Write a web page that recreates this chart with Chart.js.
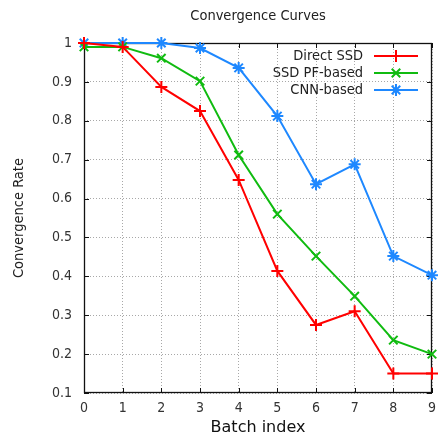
<!DOCTYPE html>
<html>
<head>
<meta charset="utf-8">
<script src="https://cdn.jsdelivr.net/npm/chart.js@4/dist/chart.umd.min.js"></script>
<style>
  html, body { margin: 0; padding: 0; background: #fff; }
  #wrap { width: 440px; height: 437px; }
</style>
</head>
<body>
<div id="wrap"><canvas id="convChart" width="440" height="437"></canvas></div>
<script>
// batch indices on the x axis
const batches = [0, 1, 2, 3, 4, 5, 6, 7, 8, 9];

// convergence rate per batch
const directSSD = [1.0, 0.99, 0.887, 0.825, 0.648, 0.414, 0.275, 0.31, 0.15, 0.15];
const ssdPF = [0.99, 0.99, 0.961, 0.902, 0.712, 0.56, 0.452, 0.349, 0.236, 0.2];
const cnnBased = [1.0, 1.0, 1.0, 0.987, 0.936, 0.812, 0.637, 0.688, 0.452, 0.403];

const seriesNames = ['Direct SSD', 'SSD PF-based', 'CNN-based'];
const chartTitle = 'Convergence Curves';
const FONT = '"DejaVu Sans Condensed", "DejaVu Sans", sans-serif';
const WIDE_FONT = '"DejaVu Sans", sans-serif';

function makeSet(name, data, color, style) {
    return {
        label: name,
        data: data,
        borderColor: color,
        backgroundColor: color,
        borderWidth: 2,
        pointStyle: style,
        pointRadius: 6,
        pointBorderWidth: 2,
        pointHoverRadius: 6,
        tension: 0,
        fill: false,
        clip: false
    };
}

// gnuplot style frame with inward ticks on all four sides, title over the plot box
const framePlugin = {
    id: 'frame',
    beforeDatasetsDraw(chart) {
        const { ctx, chartArea: a } = chart;
        const xs = chart.scales.x, ys = chart.scales.y;
        ctx.save();
        ctx.strokeStyle = '#111';
        ctx.lineWidth = 1.3;
        ctx.strokeRect(a.left + 0.5, a.top + 0.5, a.right - a.left - 1, a.bottom - a.top - 1);
        ctx.lineWidth = 1;
        ctx.beginPath();
        ys.ticks.forEach(t => {
            const y = Math.round(ys.getPixelForValue(t.value)) + 0.5;
            ctx.moveTo(a.left, y); ctx.lineTo(a.left + 5, y);
            ctx.moveTo(a.right, y); ctx.lineTo(a.right - 5, y);
        });
        xs.ticks.forEach((t, i) => {
            const x = Math.round(xs.getPixelForTick(i)) + 0.5;
            ctx.moveTo(x, a.bottom); ctx.lineTo(x, a.bottom - 5);
            ctx.moveTo(x, a.top); ctx.lineTo(x, a.top + 5);
        });
        ctx.stroke();

        ctx.font = '14.5px ' + FONT;
        ctx.fillStyle = '#222';
        ctx.textAlign = 'center';
        ctx.textBaseline = 'middle';
        ctx.fillText(chartTitle, (a.left + a.right) / 2, 16.5);
        ctx.restore();
    }
};

// key placed inside the top right corner, text right aligned
const keyPlugin = {
    id: 'insideKey',
    afterDatasetsDraw(chart) {
        const ctx = chart.ctx;
        ctx.save();
        chart.data.datasets.forEach((ds, i) => {
            const y = 56 + i * 17;
            ctx.font = '14.5px ' + FONT;
            ctx.fillStyle = '#222';
            ctx.textAlign = 'right';
            ctx.textBaseline = 'middle';
            ctx.fillText(ds.label, 363, y);
            ctx.strokeStyle = ds.borderColor;
            ctx.lineWidth = 2;
            ctx.beginPath();
            ctx.moveTo(374, y);
            ctx.lineTo(418, y);
            ctx.stroke();
            Chart.helpers.drawPoint(ctx, {
                pointStyle: ds.pointStyle, radius: 6, rotation: 0, borderWidth: 2
            }, 396, y);
        });
        ctx.restore();
    }
};

const gridStyle = {
    color: '#a8a8a8',
    lineWidth: 1,
    drawTicks: false
};

new Chart(document.getElementById('convChart'), {
    type: 'line',
    data: {
        labels: batches,
        datasets: [
            makeSet(seriesNames[0], directSSD, '#ff0000', 'cross'),
            makeSet(seriesNames[1], ssdPF, '#10bb10', 'crossRot'),
            makeSet(seriesNames[2], cnnBased, '#1e88ff', 'star')
        ]
    },
    options: {
        responsive: false,
        animation: false,
        events: [],
        layout: { padding: { left: 0, right: 3, top: 43, bottom: 0 } },
        plugins: {
            legend: { display: false },
            tooltip: { enabled: false },
            title: { display: false }
        },
        scales: {
            x: {
                type: 'category',
                offset: false,
                grid: gridStyle,
                border: { display: false, dash: [1, 2] },
                ticks: {
                    color: '#333',
                    font: { family: FONT, size: 14 },
                    padding: 7,
                    maxRotation: 0,
                    autoSkip: false
                },
                title: {
                    display: true,
                    text: 'Batch index',
                    color: '#111',
                    font: { family: WIDE_FONT, size: 16 },
                    padding: { top: 0, bottom: 0 }
                },
                afterFit(scale) {
                    scale.height = 44;
                    scale.paddingLeft = 0;
                    scale.paddingRight = 0;
                }
            },
            y: {
                min: 0.1,
                max: 1,
                grid: gridStyle,
                border: { display: false, dash: [1, 2] },
                ticks: {
                    stepSize: 0.1,
                    color: '#333',
                    font: { family: FONT, size: 14 },
                    padding: 12,
                    callback: v => String(+v.toFixed(1))
                },
                title: {
                    display: true,
                    text: 'Convergence Rate',
                    color: '#222',
                    font: { family: FONT, size: 14.5 },
                    padding: { top: 11, bottom: 0 }
                },
                afterFit(scale) {
                    scale.width = 84;
                    scale.paddingTop = 0;
                    scale.paddingBottom = 0;
                }
            }
        }
    },
    plugins: [framePlugin, keyPlugin]
});
</script>
</body>
</html>
